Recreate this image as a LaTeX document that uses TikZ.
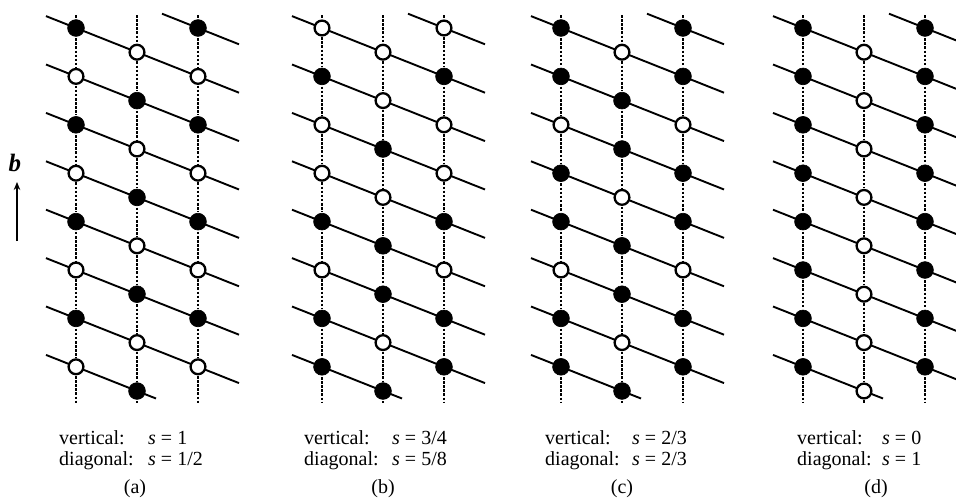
\documentclass[tikz,border=0pt]{standalone}
\usepackage{fontspec}
\setmainfont{Liberation Serif}
\usetikzlibrary{arrows.meta,calc}
\begin{document}
\begin{tikzpicture}[x=1pt,y=-1pt,
  dot1/.style={circle,fill=black,draw=black,line width=0.6pt,minimum size=16.8pt,inner sep=0pt,outer sep=1.8pt},
  dot0/.style={circle,fill=white,draw=black,line width=2.3pt,minimum size=14.8pt,inner sep=0pt,outer sep=1.8pt},
  vdot/.style={line width=2.6pt,dash pattern=on 2.6pt off 1.5pt},
  diag/.style={line width=1.9pt},
  lab/.style={font=\fontsize{20}{21}\selectfont,inner sep=0pt,anchor=base west},
  captxt/.style={font=\fontsize{20}{21}\selectfont,inner sep=0pt,anchor=base},
  ]
\useasboundingbox (0,0) rectangle (956,499);
\foreach \p/\xl/\lp/\mp in {
  a/76/{1,0,1,0,1,0,1,0}/{0,1,0,1,0,1,0,1},
  b/322/{0,1,0,0,1,0,1,1}/{0,0,1,0,1,1,0,1},
  c/561/{1,1,0,1,1,0,1,1}/{0,1,1,0,1,1,0,1},
  d/803/{1,1,1,1,1,1,1,1}/{0,0,0,0,0,0,0,0}}{
  % centres
  \foreach \i in {0,...,7}{
    \coordinate (\p-L\i) at (\xl,{28+48.4*\i});
    \coordinate (\p-M\i) at (\xl+61,{52.2+48.4*\i});
    \coordinate (\p-R\i) at (\xl+122,{28+48.4*\i});
  }
  % diagonal lines
  \foreach \i [evaluate=\i as \j using int(\i+1)] in {0,...,6}{
    \coordinate (\p-s\i) at ($(\p-L\i)+(-30,-11.9)$);
    \coordinate (\p-e\i) at ($(\p-R\j)+(41,16.3)$);
    \draw[diag] (\p-s\i) -- (\p-L\i) -- (\p-M\i) -- (\p-R\j) -- (\p-e\i);
  }
  \coordinate (\p-s7) at ($(\p-L7)+(-30,-11.9)$);
  \coordinate (\p-e7) at ($(\p-M7)+(19,7.5)$);
  \draw[diag] (\p-s7) -- (\p-L7) -- (\p-M7) -- (\p-e7);
  \coordinate (\p-st) at ($(\p-R0)+(-36,-14.3)$);
  \coordinate (\p-et) at ($(\p-R0)+(41,16.3)$);
  \draw[diag] (\p-st) -- (\p-R0) -- (\p-et);
  % nodes
  \foreach \c [count=\k from 0] in \lp{
    \node[dot\c] (n\p-L\k) at (\p-L\k) {};
    \node[dot\c] (n\p-R\k) at (\p-R\k) {};
  }
  \foreach \c [count=\k from 0] in \mp{
    \node[dot\c] (n\p-M\k) at (\p-M\k) {};
  }
  % vertical dotted lines
  \foreach \col/\xo in {L/0,M/61,R/122}{
    \coordinate (\p-\col top) at (\xl+\xo,15);
    \coordinate (\p-\col bot) at (\xl+\xo,403);
    \draw[vdot] (\p-\col top) -- (n\p-\col0);
    \draw[vdot] (n\p-\col7) -- (\p-\col bot);
    \foreach \i [evaluate=\i as \j using int(\i+1)] in {0,...,6}{
      \draw[vdot] (n\p-\col\i) -- (n\p-\col\j);
    }
  }
}
% labels
\foreach \p/\vx/\sx/\vv/\dv/\cx in {
  a/59/148/1/1\slash 2/135,
  b/304/392/3\slash 4/5\slash 8/383,
  c/545/632/2\slash 3/2\slash 3/622,
  d/797/882/0/1/876}{
  \node[lab] (\p-vl) at (\vx,444) {vertical:};
  \node[lab] (\p-vs) at (\sx,444) {\textit{s} = \vv};
  \node[lab] (\p-dl) at (\vx,465) {diagonal:};
  \node[lab] (\p-ds) at (\sx,465) {\textit{s} = \dv};
  \node[captxt] (\p-cap) at (\cx,493) {(\p)};
}
% b axis
\node[font=\fontsize{25}{25}\selectfont\bfseries\itshape,inner sep=0pt] (blab) at (15,163) {b};
\coordinate (bstart) at (17,241);
\coordinate (bend) at (17,182);
\draw[line width=1.7pt,-{Stealth[length=8pt,width=6.5pt]}] (bstart) -- (bend);
\end{tikzpicture}
\end{document}
